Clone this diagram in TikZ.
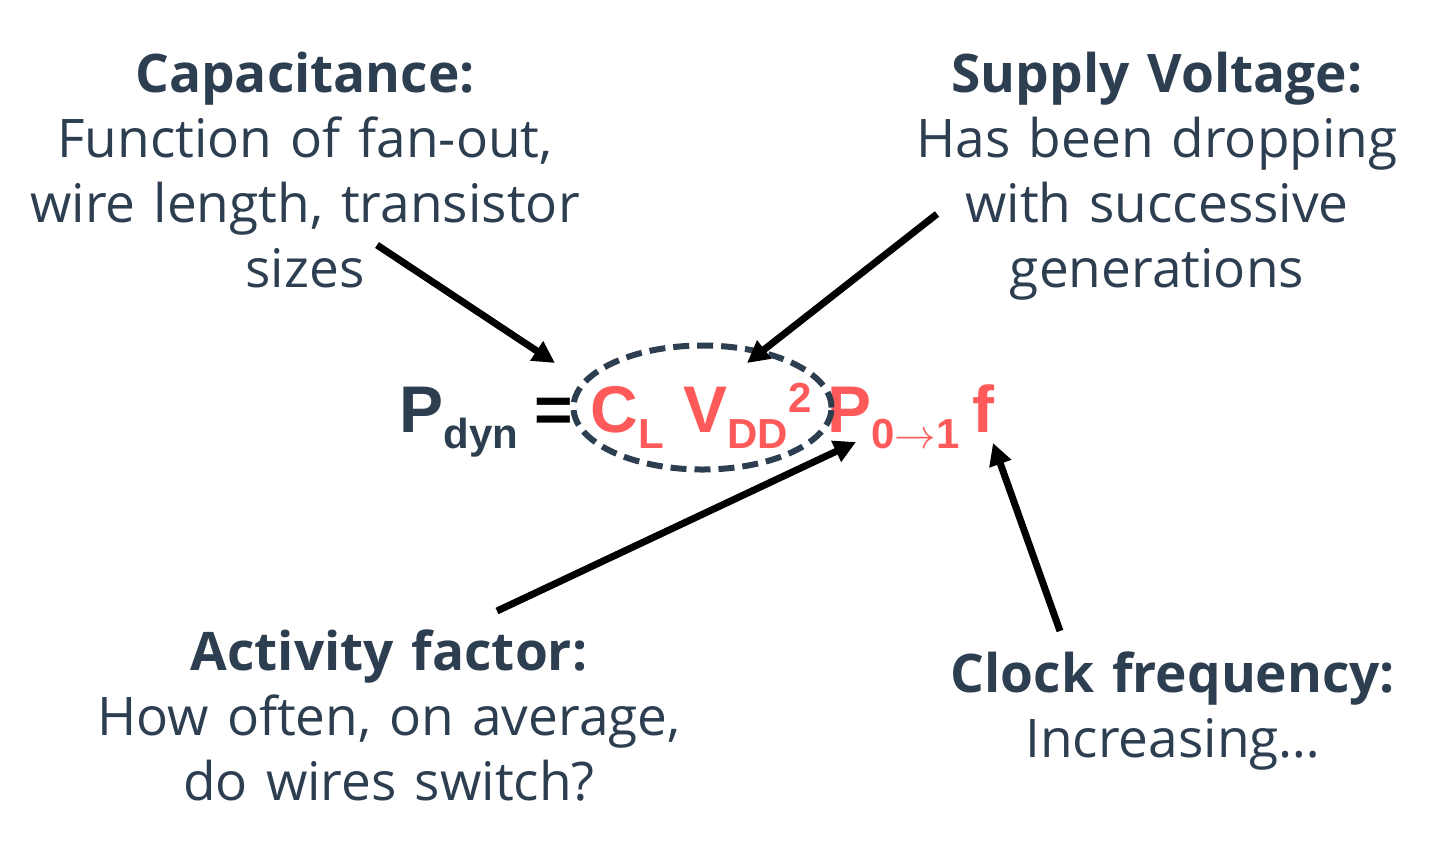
\documentclass[tikz,border=0pt]{standalone}
\usepackage{fontspec}
\setmainfont{Open Sans}
\newfontfamily\eqfont{Liberation Sans}
\usetikzlibrary{arrows.meta,shapes.geometric}
\definecolor{slate}{RGB}{44,62,80}
\definecolor{coral}{RGB}{255,90,90}
\newcommand{\lowsub}[1]{\raisebox{-8pt}{\fontsize{21}{21}\selectfont #1}}
\newcommand{\highsup}[1]{\raisebox{10pt}{\fontsize{21}{21}\selectfont #1}}
\newcommand{\widegaps}{\spaceskip=9pt\relax}

\begin{document}
\begin{tikzpicture}[x=5pt,y=5pt]
    \tikzstyle{every node}+=[inner sep=0pt]
    \tikzset{
      note/.style={align=center, text=slate, anchor=base, font=\fontsize{26.6}{32.5}\selectfont\widegaps},
      term/.style={anchor=base west, font=\eqfont\bfseries\fontsize{33}{33}\selectfont},
      pointer/.style={line width=3.5pt, -{Triangle[length=11pt,width=11pt]}}
    }
    \useasboundingbox (0,0) rectangle (143.7,-84.3);
    % explanations (anchored at the last line)
    \node [note] (cap) at (30.5,-28.7) {\textbf{Capacitance:}\\Function of fan-out,\\wire length, transistor\\sizes};
    \node [note] (sup) at (115.7,-28.7) {\textbf{Supply Voltage:}\\Has been dropping\\with successive\\generations};
    \node [note] (act) at (38.9,-80.0) {\textbf{Activity factor:}\\How often, on average,\\do wires switch?};
    \node [note] (clk) at (117.3,-75.7) {\textbf{Clock frequency:}\\Increasing\dots};
    % formula
    \node [term, text=slate] (pdyn) at (39.9,-43.2) {P\lowsub{dyn}};
    \node [term, anchor=base, text=black] (eq) at (55.4,-43.2) {=};
    \node [term, text=coral] (cl) at (59.0,-43.2) {C\lowsub{L}};
    \node [term, text=coral] (vdd) at (68.3,-43.2) {V\lowsub{DD}\highsup{2}};
    \node [term, text=coral] (pact) at (82.7,-43.2) {P\lowsub{0$\rightarrow$1}};
    \node [term, text=coral] (freq) at (97.2,-43.2) {f};
    \node [ellipse, draw=slate, line width=3pt, dash pattern=on 8pt off 4pt,
           minimum width=129pt, minimum height=62pt] (grp) at (70.25,-40.75) {};
    % pointers
    \coordinate (capFrom) at (37.7,-24.5);
    \coordinate (capTo) at (55.5,-36.3);
    \coordinate (supFrom) at (93.7,-21.4);
    \coordinate (supTo) at (74.7,-36.3);
    \coordinate (actFrom) at (49.7,-61.1);
    \coordinate (actTo) at (85.6,-44.2);
    \coordinate (clkFrom) at (106.0,-63.1);
    \coordinate (clkTo) at (99.3,-44.3);
    \draw [pointer] (capFrom) -- (capTo);
    \draw [pointer] (supFrom) -- (supTo);
    \draw [pointer] (actFrom) -- (actTo);
    \draw [pointer] (clkFrom) -- (clkTo);
\end{tikzpicture}
\end{document}
